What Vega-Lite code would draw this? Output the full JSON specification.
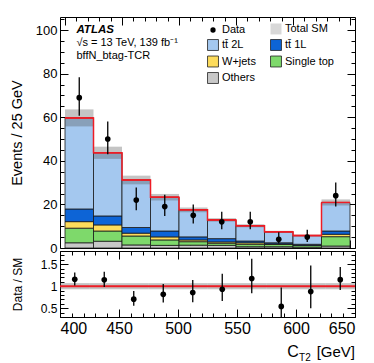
{
  "$schema": "https://vega.github.io/schema/vega-lite/v6.json",
  "padding": {"left": 8, "top": 16, "right": 4, "bottom": 4},
  "datasets": {
    "bins": [
      {"lo": 400, "hi": 425, "mid": 412.5, "tt̄ 2L": 41.8, "tt̄ 1L": 5.8, "W+jets": 3.0, "Single top": 6.7, "Others": 2.4, "total": 59.7, "sm_lo": 55.8, "sm_hi": 63.6, "data": 69, "data_lo": 60.7, "data_hi": 78.4, "ratio": 1.156, "ratio_lo": 1.017, "ratio_hi": 1.312, "rb_lo": 0.93, "rb_hi": 1.07},
      {"lo": 425, "hi": 450, "mid": 437.5, "tt̄ 2L": 29.0, "tt̄ 1L": 4.1, "W+jets": 2.8, "Single top": 4.7, "Others": 3.1, "total": 43.7, "sm_lo": 40.9, "sm_hi": 46.5, "data": 50, "data_lo": 43.0, "data_hi": 58.1, "ratio": 1.144, "ratio_lo": 0.983, "ratio_hi": 1.330, "rb_lo": 0.93, "rb_hi": 1.07},
      {"lo": 450, "hi": 475, "mid": 462.5, "tt̄ 2L": 21.8, "tt̄ 1L": 2.6, "W+jets": 1.3, "Single top": 4.1, "Others": 1.4, "total": 31.2, "sm_lo": 29.2, "sm_hi": 33.2, "data": 22, "data_lo": 17.3, "data_hi": 27.8, "ratio": 0.705, "ratio_lo": 0.556, "ratio_hi": 0.890, "rb_lo": 0.93, "rb_hi": 1.07},
      {"lo": 475, "hi": 500, "mid": 487.5, "tt̄ 2L": 15.5, "tt̄ 1L": 2.7, "W+jets": 1.4, "Single top": 2.5, "Others": 1.2, "total": 23.3, "sm_lo": 21.8, "sm_hi": 24.8, "data": 19, "data_lo": 14.7, "data_hi": 24.4, "ratio": 0.815, "ratio_lo": 0.630, "ratio_hi": 1.049, "rb_lo": 0.93, "rb_hi": 1.07},
      {"lo": 500, "hi": 525, "mid": 512.5, "tt̄ 2L": 12.4, "tt̄ 1L": 1.4, "W+jets": 0.8, "Single top": 1.6, "Others": 1.3, "total": 17.5, "sm_lo": 16.4, "sm_hi": 18.6, "data": 15, "data_lo": 11.2, "data_hi": 20.0, "ratio": 0.857, "ratio_lo": 0.638, "ratio_hi": 1.141, "rb_lo": 0.93, "rb_hi": 1.07},
      {"lo": 525, "hi": 550, "mid": 537.5, "tt̄ 2L": 8.6, "tt̄ 1L": 1.5, "W+jets": 0.6, "Single top": 1.0, "Others": 1.2, "total": 12.9, "sm_lo": 12.1, "sm_hi": 13.7, "data": 12, "data_lo": 8.6, "data_hi": 16.6, "ratio": 0.930, "ratio_lo": 0.664, "ratio_hi": 1.284, "rb_lo": 0.93, "rb_hi": 1.07},
      {"lo": 550, "hi": 575, "mid": 562.5, "tt̄ 2L": 7.0, "tt̄ 1L": 0.8, "W+jets": 0.7, "Single top": 1.1, "Others": 0.6, "total": 10.2, "sm_lo": 9.5, "sm_hi": 10.9, "data": 12, "data_lo": 8.6, "data_hi": 16.6, "ratio": 1.176, "ratio_lo": 0.840, "ratio_hi": 1.625, "rb_lo": 0.93, "rb_hi": 1.07},
      {"lo": 575, "hi": 600, "mid": 587.5, "tt̄ 2L": 5.0, "tt̄ 1L": 0.5, "W+jets": 0.3, "Single top": 1.0, "Others": 0.6, "total": 7.4, "sm_lo": 6.9, "sm_hi": 7.9, "data": 4, "data_lo": 2.1, "data_hi": 7.2, "ratio": 0.541, "ratio_lo": 0.282, "ratio_hi": 0.968, "rb_lo": 0.93, "rb_hi": 1.07},
      {"lo": 600, "hi": 625, "mid": 612.5, "tt̄ 2L": 4.0, "tt̄ 1L": 0.4, "W+jets": 0.1, "Single top": 0.8, "Others": 0.4, "total": 5.7, "sm_lo": 5.3, "sm_hi": 6.1, "data": 5, "data_lo": 2.8, "data_hi": 8.4, "ratio": 0.877, "ratio_lo": 0.498, "ratio_hi": 1.470, "rb_lo": 0.93, "rb_hi": 1.07},
      {"lo": 625, "hi": 650, "mid": 637.5, "tt̄ 2L": 13.1, "tt̄ 1L": 1.5, "W+jets": 1.1, "Single top": 4.3, "Others": 0.9, "total": 20.9, "sm_lo": 19.5, "sm_hi": 22.3, "data": 24, "data_lo": 19.1, "data_hi": 30.0, "ratio": 1.148, "ratio_lo": 0.915, "ratio_hi": 1.434, "rb_lo": 0.93, "rb_hi": 1.07}
    ]
  },
  "config": {
    "font": "Liberation Sans",
    "view": {"stroke": "black", "strokeWidth": 1},
    "axis": {"domain": false, "grid": false, "tickColor": "black", "tickWidth": 1, "labelColor": "black", "titleColor": "black", "titleFontWeight": "normal", "labelFont": "Liberation Sans", "titleFont": "Liberation Sans"}
  },
  "bounds": "flush",
  "spacing": 3,
  "vconcat": [
    {
      "width": 295,
      "height": 231,
      "layer": [
        {
          "data": {"name": "bins"},
          "transform": [{"fold": ["Others", "Single top", "W+jets", "tt̄ 1L", "tt̄ 2L"], "as": ["series", "value"]}],
          "mark": {"type": "bar", "orient": "vertical", "stroke": "#1a1a1a", "strokeWidth": 0.8},
          "encoding": {
            "x": {"field": "lo", "type": "quantitative", "scale": {"domain": [400, 650], "nice": false, "zero": false},
              "axis": {"orient": "bottom", "values": [400,410,420,430,440,450,460,470,480,490,500,510,520,530,540,550,560,570,580,590,600,610,620,630,640,650], "labels": false, "title": null, "tickSize": {"condition": {"test": "datum.value % 50 === 0", "value": -8}, "value": -4}}},
            "x2": {"field": "hi"},
            "y": {"field": "value", "type": "quantitative", "stack": "zero", "scale": {"domain": [0, 106], "nice": false},
              "axis": {"orient": "left", "values": [0,5,10,15,20,25,30,35,40,45,50,55,60,65,70,75,80,85,90,95,100,105], "labelExpr": "datum.value % 20 === 0 ? datum.label : ''", "tickSize": {"condition": {"test": "datum.value % 20 === 0", "value": -8}, "value": -4}, "labelPadding": 11, "labelFontSize": 13, "title": "Events / 25 GeV", "titleFontSize": 14.5, "titlePadding": 8, "minExtent": 28, "maxExtent": 28}},
            "color": {"field": "series", "type": "nominal",
              "scale": {"domain": ["Data", "Total SM", "tt̄ 2L", "tt̄ 1L", "W+jets", "Single top", "Others"], "range": ["black", "#d8d8d8", "#a4c8ef", "#0d64d6", "#fddc5c", "#7ed96b", "#c8c8c8"]},
              "legend": {"orient": "none", "legendX": 147, "legendY": 5.5, "direction": "horizontal", "columns": 2, "title": null, "symbolType": "square", "symbolSize": 120, "symbolStrokeWidth": 0.8, "symbolStrokeColor": "#222", "labelFontSize": 11, "labelFont": "Liberation Sans", "labelColor": "black", "labelOffset": 3, "rowPadding": 0.5, "columnPadding": 12, "labelLimit": 200,
                "encode": {"symbols": {"update": {
                  "shape": {"signal": "datum.value === 'Data' ? 'circle' : 'square'"},
                  "size": {"signal": "datum.value === 'Data' ? 28 : 120"},
                  "fill": {"signal": "datum.value === 'Total SM' ? {gradient: 'linear', x1: 0, y1: 0, x2: 0, y2: 1, stops: [{offset: 0, color: '#dcdcdc'}, {offset: 0.4, color: '#dcdcdc'}, {offset: 0.4, color: '#ee1c25'}, {offset: 0.6, color: '#ee1c25'}, {offset: 0.6, color: '#dcdcdc'}, {offset: 1, color: '#dcdcdc'}]} : scale('color', datum.value)"},
                  "stroke": {"signal": "datum.value === 'Data' || datum.value === 'Total SM' ? 'transparent' : '#222'"}
                }}}}},
            "order": {"field": "series", "sort": "ascending"}
          }
        },
        {
          "data": {"name": "bins"},
          "mark": {"type": "rect", "fill": "#555555", "fillOpacity": 0.35},
          "encoding": {
            "x": {"field": "lo", "type": "quantitative", "axis": null},
            "x2": {"field": "hi"},
            "y": {"field": "sm_lo", "type": "quantitative", "axis": null},
            "y2": {"field": "sm_hi"}
          }
        },
        {
          "data": {"name": "bins"},
          "mark": {"type": "line", "interpolate": "step-after", "color": "#ee1c25", "strokeWidth": 1.5},
          "encoding": {
            "x": {"field": "lo", "type": "quantitative", "axis": null},
            "y": {"field": "total", "type": "quantitative", "axis": null}
          }
        },
        {
          "data": {"name": "bins"},
          "mark": {"type": "rule", "color": "#ee1c25", "strokeWidth": 1.5},
          "encoding": {
            "x": {"field": "lo", "type": "quantitative", "axis": null},
            "x2": {"field": "hi"},
            "y": {"field": "total", "type": "quantitative", "axis": null}
          }
        },
        {
          "data": {"name": "bins"},
          "mark": {"type": "rule", "color": "black", "strokeWidth": 1.3},
          "encoding": {
            "x": {"field": "mid", "type": "quantitative", "axis": null},
            "y": {"field": "data_lo", "type": "quantitative", "axis": null},
            "y2": {"field": "data_hi"}
          }
        },
        {
          "data": {"name": "bins"},
          "mark": {"type": "point", "filled": true, "color": "black", "size": 32, "opacity": 1},
          "encoding": {
            "x": {"field": "mid", "type": "quantitative",
              "axis": {"orient": "top", "values": [400,410,420,430,440,450,460,470,480,490,500,510,520,530,540,550,560,570,580,590,600,610,620,630,640,650], "labels": false, "title": null, "tickSize": {"condition": {"test": "datum.value % 50 === 0", "value": -8}, "value": -4}}},
            "y": {"field": "data", "type": "quantitative",
              "axis": {"orient": "right", "values": [0,5,10,15,20,25,30,35,40,45,50,55,60,65,70,75,80,85,90,95,100,105], "labels": false, "title": null, "tickSize": {"condition": {"test": "datum.value % 20 === 0", "value": -8}, "value": -4}}}
          }
        },
        {
          "data": {"values": [{"label": "ATLAS"}]},
          "mark": {"type": "text", "fontStyle": "italic", "fontWeight": "bold", "fontSize": 11.5, "align": "left", "baseline": "alphabetic", "color": "black"},
          "encoding": {
            "text": {"field": "label"},
            "x": {"datum": 410, "type": "quantitative", "axis": null},
            "y": {"datum": 98.7, "type": "quantitative", "axis": null}
          }
        },
        {
          "data": {"values": [{"label": "√s = 13 TeV, 139 fb⁻¹"}]},
          "mark": {"type": "text", "fontSize": 11, "align": "left", "baseline": "alphabetic", "color": "black"},
          "encoding": {
            "text": {"field": "label"},
            "x": {"datum": 410, "type": "quantitative", "axis": null},
            "y": {"datum": 92.8, "type": "quantitative", "axis": null}
          }
        },
        {
          "data": {"values": [{"label": "bffN_btag-TCR"}]},
          "mark": {"type": "text", "fontSize": 11, "align": "left", "baseline": "alphabetic", "color": "black"},
          "encoding": {
            "text": {"field": "label"},
            "x": {"datum": 410, "type": "quantitative", "axis": null},
            "y": {"datum": 86.5, "type": "quantitative", "axis": null}
          }
        }
      ],
      "resolve": {"axis": {"x": "independent", "y": "independent"}}
    },
    {
      "width": 295,
      "height": 66,
      "layer": [
        {
          "data": {"name": "bins"},
          "mark": {"type": "rect", "fill": "#555555", "fillOpacity": 0.35},
          "encoding": {
            "x": {"field": "lo", "type": "quantitative", "scale": {"domain": [400, 650], "nice": false, "zero": false},
              "axis": {"orient": "bottom", "values": [400,410,420,430,440,450,460,470,480,490,500,510,520,530,540,550,560,570,580,590,600,610,620,630,640,650], "labelExpr": "datum.value % 50 === 0 ? datum.label : ''", "labelFontSize": 16, "labelPadding": 11, "title": null, "tickSize": {"condition": {"test": "datum.value % 50 === 0", "value": -8}, "value": -4}}},
            "x2": {"field": "hi"},
            "y": {"field": "rb_lo", "type": "quantitative", "scale": {"domain": [0.3, 1.8], "nice": false, "zero": false},
              "axis": {"orient": "left", "values": [0.3,0.4,0.5,0.6,0.7,0.8,0.9,1,1.1,1.2,1.3,1.4,1.5,1.6,1.7,1.8], "format": "~g", "labelExpr": "abs(datum.value*2 - round(datum.value*2)) < 0.001 ? datum.label : ''", "tickSize": {"condition": {"test": "abs(datum.value*2 - round(datum.value*2)) < 0.001", "value": -8}, "value": -4}, "labelPadding": 11, "labelFontSize": 12, "title": "Data / SM", "titleFontSize": 12, "titlePadding": 8, "minExtent": 28, "maxExtent": 28}},
            "y2": {"field": "rb_hi"}
          }
        },
        {
          "data": {"values": [{}]},
          "mark": {"type": "rule", "color": "#ee1c25", "strokeWidth": 2},
          "encoding": {
            "y": {"datum": 1, "type": "quantitative", "axis": null}
          }
        },
        {
          "data": {"name": "bins"},
          "mark": {"type": "rule", "color": "black", "strokeWidth": 1.3, "clip": true},
          "encoding": {
            "x": {"field": "mid", "type": "quantitative", "axis": null},
            "y": {"field": "ratio_lo", "type": "quantitative", "axis": null},
            "y2": {"field": "ratio_hi"}
          }
        },
        {
          "data": {"name": "bins"},
          "mark": {"type": "point", "filled": true, "color": "black", "size": 32, "opacity": 1},
          "encoding": {
            "x": {"field": "mid", "type": "quantitative",
              "axis": {"orient": "top", "values": [400,410,420,430,440,450,460,470,480,490,500,510,520,530,540,550,560,570,580,590,600,610,620,630,640,650], "labels": false, "title": null, "tickSize": {"condition": {"test": "datum.value % 50 === 0", "value": -8}, "value": -4}}},
            "y": {"field": "ratio", "type": "quantitative",
              "axis": {"orient": "right", "values": [0.3,0.4,0.5,0.6,0.7,0.8,0.9,1,1.1,1.2,1.3,1.4,1.5,1.6,1.7,1.8], "labels": false, "title": null, "tickSize": {"condition": {"test": "abs(datum.value*2 - round(datum.value*2)) < 0.001", "value": -8}, "value": -4}}}
          }
        },
        {
          "data": {"values": [{"label": "C"}]},
          "mark": {"type": "text", "fontSize": 16, "align": "left", "baseline": "alphabetic", "color": "black"},
          "encoding": {
            "text": {"field": "label"},
            "x": {"datum": 592.5, "type": "quantitative", "axis": null},
            "y": {"datum": -0.61, "type": "quantitative", "axis": null}
          }
        },
        {
          "data": {"values": [{"label": "T2"}]},
          "mark": {"type": "text", "fontSize": 10, "align": "left", "baseline": "alphabetic", "color": "black"},
          "encoding": {
            "text": {"field": "label"},
            "x": {"datum": 602.6, "type": "quantitative", "axis": null},
            "y": {"datum": -0.69, "type": "quantitative", "axis": null}
          }
        },
        {
          "data": {"values": [{"label": "[GeV]"}]},
          "mark": {"type": "text", "fontSize": 15, "align": "right", "baseline": "alphabetic", "color": "black"},
          "encoding": {
            "text": {"field": "label"},
            "x": {"datum": 650, "type": "quantitative", "axis": null},
            "y": {"datum": -0.61, "type": "quantitative", "axis": null}
          }
        }
      ],
      "resolve": {"axis": {"x": "independent", "y": "independent"}}
    }
  ]
}
